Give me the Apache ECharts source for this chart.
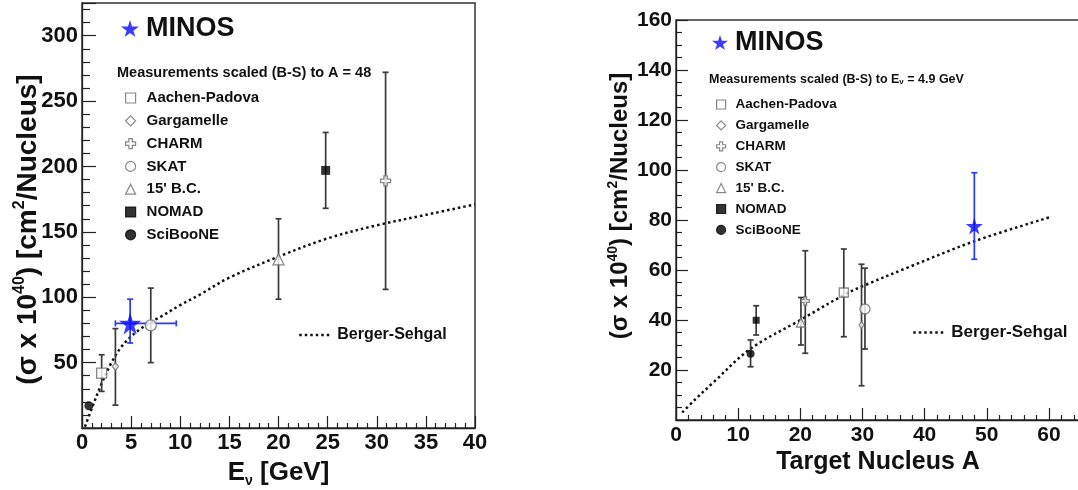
<!DOCTYPE html>
<html>
<head>
<meta charset="utf-8">
<title>NC coherent pi0 cross section</title>
<script src="https://cdn.jsdelivr.net/npm/echarts@6/dist/echarts.min.js"></script>
<style>
  html, body { margin: 0; padding: 0; background: #fff; }
  #main { width: 1078px; height: 490px; }
</style>
</head>
<body>
<div id="main"></div>
<script>
// experiments, same order in both panels
const experiments = ['Aachen-Padova', 'Gargamelle', 'CHARM', 'SKAT', "15' B.C.", 'NOMAD', 'SciBooNE'];

// left panel: sigma vs E_nu [GeV], scaled to A = 48
const energyX  = [2.0, 3.4, 30.9, 7.0, 20.0, 24.8, 0.7];
const energyY  = [42, 47, 189, 78.5, 129, 197, 17];
const energyLo = [28, 17.5, 106, 50, 98.5, 168, 17];
const energyHi = [56, 76, 272, 107, 160, 226, 17];
const minosLeft = [4.9, 80, 65, 98.5, 3.4, 9.6]; // x, y, ylo, yhi, xlo, xhi
const bsEnergyX = [0.3, 1, 2, 3, 4, 5, 6, 7, 8, 10, 12, 15, 20, 25, 30, 35, 40];
const bsEnergyY = [1, 15, 34, 50, 62, 70, 76, 81, 85, 94, 102, 115, 131, 145, 155, 163, 171];

// right panel: sigma vs target nucleus A, scaled to E_nu = 4.9 GeV
const nucleusX  = [27.0, 29.85, 20.8, 30.4, 20.1, 12.9, 12.0];
const nucleusY  = [51, 38, 47.6, 44.4, 39, 39.9, 26.5];
const nucleusLo = [33.3, 13.7, 26.7, 28.4, 30, 34, 21.3];
const nucleusHi = [68.4, 62.3, 67.7, 60.7, 49, 45.7, 32];
const minosRight = [48, 77.6, 64.3, 98.9, null, null];
const bsNucleusX = [1, 3, 6, 12, 20, 27, 30, 38, 48, 60];
const bsNucleusY = [3, 8, 15, 28.5, 40, 50, 53.5, 61.7, 71.5, 81];

const FONT = '"Liberation Sans", Arial, Helvetica, sans-serif';
const STAR = 'path://M50,0 L61,35 L98,35 L68,57 L79,91 L50,70 L21,91 L32,57 L2,35 L39,35 Z';
const PLUS = 'path://M33,0 H67 V33 H100 V67 H67 V100 H33 V67 H0 V33 H33 Z';

const symbolOf = {
  'Aachen-Padova': 'rect', 'Gargamelle': 'diamond', 'CHARM': PLUS, 'SKAT': 'circle',
  "15' B.C.": 'triangle', 'NOMAD': 'rect', 'SciBooNE': 'circle'
};
const filled = { 'NOMAD': true, 'SciBooNE': true };
const sizeLeft = {
  'Aachen-Padova': 10, 'Gargamelle': [6, 8], 'CHARM': 10, 'SKAT': 11,
  "15' B.C.": 11, 'NOMAD': 9, 'SciBooNE': 9
};
const sizeRight = {
  'Aachen-Padova': 9, 'Gargamelle': [5, 7], 'CHARM': 8, 'SKAT': 10,
  "15' B.C.": 9, 'NOMAD': 7, 'SciBooNE': 8
};

function errorBars(color, lw, cap) {
  return function (params, api) {
    const x = api.value(0), y = api.value(1);
    const els = [];
    const seg = (a, b) => els.push({
      type: 'line',
      shape: { x1: a[0], y1: a[1], x2: b[0], y2: b[1] },
      style: { stroke: color, lineWidth: lw }
    });
    const ylo = api.value(2), yhi = api.value(3);
    if (yhi > ylo) {
      const lo = api.coord([x, ylo]), hi = api.coord([x, yhi]);
      seg(lo, hi);
      seg([lo[0] - cap, lo[1]], [lo[0] + cap, lo[1]]);
      seg([hi[0] - cap, hi[1]], [hi[0] + cap, hi[1]]);
    }
    const xlo = api.value(4), xhi = api.value(5);
    if (xhi > xlo) {
      const l = api.coord([xlo, y]), r = api.coord([xhi, y]);
      seg(l, r);
      seg([l[0], l[1] - cap], [l[0], l[1] + cap]);
      seg([r[0], r[1] - cap], [r[0], r[1] + cap]);
    }
    return { type: 'group', children: els };
  };
}

function panel(idx, xs, ys, lo, hi, minos, bsx, bsy, sizes, starSize) {
  const out = [];
  out.push({
    type: 'line', name: 'Berger-Sehgal', xAxisIndex: idx, yAxisIndex: idx,
    data: bsx.map((x, i) => [x, bsy[i]]),
    symbol: 'none', showSymbol: false, smooth: 0.35, z: 2,
    itemStyle: { color: '#111' },
    lineStyle: { color: '#111', width: 2.5, type: [2.5, 3] }
  });
  out.push({
    type: 'custom', xAxisIndex: idx, yAxisIndex: idx, z: 3,
    renderItem: errorBars('#3a3a3a', 1.7, 3),
    encode: { x: 0, y: 1 },
    data: xs.map((x, i) => [x, ys[i], lo[i], hi[i], null, null])
  });
  out.push({
    type: 'custom', xAxisIndex: idx, yAxisIndex: idx, z: 3,
    renderItem: errorBars('#2a3cf0', 1.7, 3),
    encode: { x: 0, y: 1 },
    data: [minos]
  });
  experiments.forEach((name, i) => {
    out.push({
      type: 'scatter', name: name, xAxisIndex: idx, yAxisIndex: idx, z: 4,
      symbol: symbolOf[name], symbolSize: sizes[name],
      itemStyle: filled[name]
        ? { color: '#000', borderColor: '#000', borderWidth: 0 }
        : { color: '#fff', borderColor: '#6a6a6a', borderWidth: 1.3 },
      data: [[xs[i], ys[i]]]
    });
  });
  out.push({
    type: 'scatter', name: 'MINOS', xAxisIndex: idx, yAxisIndex: idx, z: 5,
    symbol: STAR, symbolSize: starSize,
    itemStyle: { color: '#0a0aff' },
    data: [[minos[0], minos[1]]]
  });
  return out;
}

function axisBase(fontSize, majorLen, minorLen, split, fmt, margin) {
  return {
    type: 'value',
    axisLine: { show: true, lineStyle: { color: '#222', width: 1.3 } },
    axisTick: { show: true, inside: true, length: majorLen, lineStyle: { color: '#222', width: 1.2 } },
    minorTick: { show: true, splitNumber: split, length: minorLen, lineStyle: { color: '#222', width: 1.2 } },
    splitLine: { show: false },
    axisLabel: {
      margin: margin, fontSize: fontSize, fontWeight: 'bold', fontFamily: FONT, color: '#111',
      formatter: fmt
    },
    nameLocation: 'middle',
    nameMoveOverlap: false
  };
}

function richName(size, small) {
  return {
    fontSize: size, fontWeight: 'bold', fontFamily: FONT, color: '#111', lineHeight: size + 4,
    rich: {
      sup: { fontSize: small, fontWeight: 'bold', fontFamily: FONT, color: '#111', lineHeight: small, verticalAlign: 'top' },
      sub: { fontSize: small, fontWeight: 'bold', fontFamily: FONT, color: '#111', lineHeight: small, verticalAlign: 'bottom' }
    }
  };
}

const yTitle = '(σ x 10{sup|40}) [cm{sup|2}/Nucleus]';

const xLeft = Object.assign(axisBase(22, 12, 5, 5, v => (v % 5 === 0 ? String(v) : ''), 4), {
  gridIndex: 0, min: 0, max: 40, interval: 5,
  name: 'E{sub|ν} [GeV]', nameGap: 30, nameTextStyle: richName(26, 14)
});
const yLeft = Object.assign(axisBase(22, 14, 8, 5, v => (v > 0 && v % 50 === 0 ? String(v) : ''), 4), {
  gridIndex: 0, min: 0, max: 325, interval: 50,
  name: yTitle, nameGap: 38,
  nameTextStyle: Object.assign(richName(28, 16), { padding: [0, 28, 0, 0] })
});
const xRight = Object.assign(axisBase(21, 12, 5, 5, v => (v % 10 === 0 ? String(v) : ''), 5), {
  gridIndex: 1, min: 0, max: 65, interval: 10,
  name: 'Target Nucleus A', nameGap: 28, nameTextStyle: richName(25, 14)
});
const yRight = Object.assign(axisBase(21, 12, 6, 4, v => (v > 0 && v % 20 === 0 ? String(v) : ''), 4), {
  gridIndex: 1, min: 0, max: 160, interval: 20,
  name: yTitle, nameGap: 42,
  nameTextStyle: Object.assign(richName(24, 14), { padding: [0, 0, 0, 28] })
});

function minosLegend(left, top, icon, size) {
  return {
    data: ['MINOS'], orient: 'vertical', left: left, top: top, padding: 0, selectedMode: false,
    itemWidth: icon, itemHeight: icon, itemStyle: { borderWidth: 0 },
    textStyle: { fontSize: size, fontWeight: 'bold', fontFamily: FONT, color: '#111', padding: [0, 0, 0, 2] }
  };
}
function expLegend(left, top, icon, size, lh, gap, pad) {
  return {
    data: experiments, orient: 'vertical', left: left, top: top, padding: 0, selectedMode: false,
    itemWidth: icon, itemHeight: icon, itemGap: gap,
    itemStyle: { borderWidth: 1.2 },
    textStyle: { fontSize: size, fontWeight: 'bold', fontFamily: FONT, color: '#111', lineHeight: lh, padding: [0, 0, 0, pad] }
  };
}
function bsLegend(left, top, size) {
  return {
    data: ['Berger-Sehgal'], left: left, top: top, padding: 0, selectedMode: false,
    itemWidth: 30, itemHeight: 10,
    itemStyle: { opacity: 0 },
    lineStyle: { width: 2.5, type: [2.5, 3], color: '#111' },
    textStyle: { fontSize: size, fontWeight: 'bold', fontFamily: FONT, color: '#111', lineHeight: size + 2, padding: [0, 0, 0, 3] }
  };
}

const chart = echarts.init(document.getElementById('main'), null, { renderer: 'canvas' });
chart.setOption({
  animation: false,
  backgroundColor: '#fff',
  grid: [
    { left: 82, top: 3, width: 393, height: 425, show: true, borderColor: '#333', borderWidth: 1.5, outerBoundsMode: 'none' },
    { left: 676, top: 20, width: 404, height: 400, show: true, borderColor: '#333', borderWidth: 1.5, outerBoundsMode: 'none' }
  ],
  xAxis: [xLeft, xRight],
  yAxis: [yLeft, yRight],
  legend: [
    minosLegend(121, 15, 18, 27),
    expLegend(125, 90, 10, 15, 16, 6.8, 6),
    bsLegend(298, 326, 16),
    minosLegend(712, 29, 16, 27),
    expLegend(716, 97, 9, 13.5, 15, 5.9, 5),
    bsLegend(912, 323, 17)
  ],
  graphic: [
    {
      type: 'text', left: 117, top: 65,
      style: { text: 'Measurements scaled (B-S) to A = 48', fontSize: 14.5, fontWeight: 'bold', fontFamily: FONT, fill: '#111' }
    },
    {
      type: 'text', left: 709, top: 73,
      style: {
        text: 'Measurements scaled (B-S) to E{sub|ν} = 4.9 GeV', fontSize: 12.5, fontWeight: 'bold', fontFamily: FONT, fill: '#111',
        rich: { sub: { fontSize: 8, fontWeight: 'bold', fontFamily: FONT, fill: '#111', lineHeight: 8, verticalAlign: 'bottom' } }
      }
    }
  ],
  series: [].concat(
    panel(0, energyX, energyY, energyLo, energyHi, minosLeft, bsEnergyX, bsEnergyY, sizeLeft, 22),
    panel(1, nucleusX, nucleusY, nucleusLo, nucleusHi, minosRight, bsNucleusX, bsNucleusY, sizeRight, 17)
  )
});
</script>
</body>
</html>
